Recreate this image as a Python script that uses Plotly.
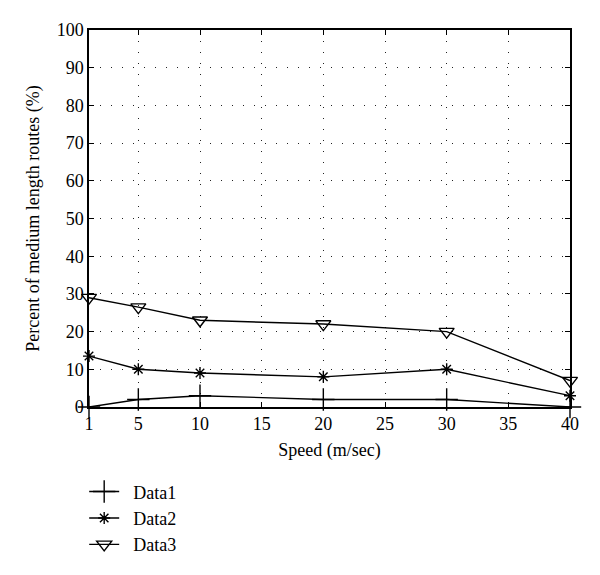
import plotly.graph_objects as go

speed = [1, 5, 10, 20, 30, 40]
data1 = [0, 2, 3, 2, 2, 0]
data2 = [13.5, 10, 9, 8, 10, 3]
data3 = [29, 26.5, 23, 22, 20, 7]
names = ["Data1", "Data2", "Data3"]
x_ticks = [1, 5, 10, 15, 20, 25, 30, 35, 40]
y_ticks = [0, 10, 20, 30, 40, 50, 60, 70, 80, 90, 100]

symbols = ["cross-thin-open", "asterisk-open", "triangle-down-open"]
sizes = [16, 10, 13]
font_fam = "Liberation Serif, Times New Roman, serif"

fig = go.Figure()
for nm, ys, sym, sz in zip(names, [data1, data2, data3], symbols, sizes):
    fig.add_trace(go.Scatter(
        x=speed, y=ys, name="\u00a0\u00a0" + nm, mode="lines+markers",
        line=dict(color="black", width=1.4),
        marker=dict(symbol=sym, size=sz, color="black",
                    line=dict(color="black", width=1.4)),
        cliponaxis=False))

axis_common = dict(
    showline=True, linecolor="black", linewidth=1.5, mirror="ticks",
    ticks="inside", ticklen=5, tickcolor="black",
    showgrid=True, gridcolor="#222", gridwidth=1, griddash="1px,10px",
    zeroline=False, tickfont=dict(size=18, color="black", family=font_fam),
)

fig.update_xaxes(range=[1, 40], tickvals=x_ticks,
                 title=dict(text="Speed (m/sec)", font=dict(size=18, color="black", family=font_fam), standoff=10),
                 **axis_common)
fig.update_yaxes(range=[0, 100], tickvals=y_ticks,
                 title=dict(text="Percent of medium length routes (%)", font=dict(size=18, color="black", family=font_fam), standoff=12),
                 **axis_common)

# page body adds an 8px offset, so the figure is a bit smaller than the window
fig.update_layout(
    width=592, height=567,
    margin=dict(l=81, r=30, t=20, b=168),
    plot_bgcolor="white", paper_bgcolor="white",
    font=dict(family=font_fam, color="black"),
    legend=dict(x=-0.01, y=-0.176, xanchor="left", yanchor="top",
                font=dict(size=18, family=font_fam, color="black"),
                bgcolor="rgba(0,0,0,0)", tracegroupgap=0, itemwidth=30),
    showlegend=True,
)

fig.write_html("out.html")
